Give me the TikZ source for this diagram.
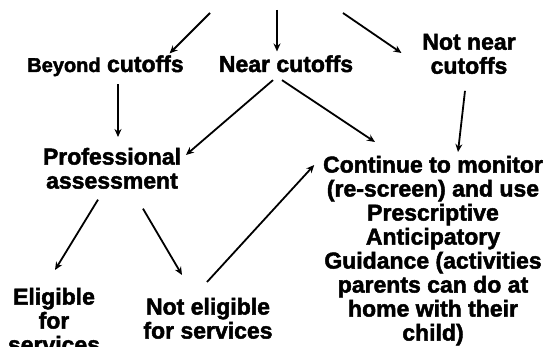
\documentclass[tikz,border=0pt]{standalone}
\usepackage{fontspec}
\setmainfont{Liberation Sans}[BoldFeatures={FakeBold=2}]
\usetikzlibrary{arrows.meta}

\begin{document}
\begin{tikzpicture}[x=1pt, y=1pt, line width=1.8pt, >={Stealth[length=8pt,width=7pt]},
    lbl/.style={inner sep=0, align=center, font=\bfseries\fontsize{23}{24}\selectfont}]
    \useasboundingbox (0,0) rectangle (550,347);

    \coordinate (in1) at (210,334);
    \coordinate (in2) at (277,337);
    \coordinate (in3) at (343,334);

    \node[lbl, anchor=base] (beyond) at (105.5,275) {{\fontsize{20}{24}\selectfont Beyond} cutoffs};
    \node[lbl, anchor=base] (near) at (286,275) {Near cutoffs};
    \node[lbl, anchor=north] (notnear) at (469,314) {Not near\\cutoffs};
    \node[lbl, anchor=north] (prof) at (112,200) {Professional\\assessment};
    \node[lbl, anchor=north] (cont) at (433,192) {Continue to monitor\\(re-screen) and use\\Prescriptive\\Anticipatory\\Guidance (activities\\parents can do at\\home with their\\child)};
    \node[lbl, anchor=north] (elig) at (54,60) {Eligible\\for\\services};
    \node[lbl, anchor=north] (noteli) at (208,50) {Not eligible\\for services};

    \draw[->] (in1) -- ([xshift=-15pt,yshift=1pt]beyond.north east);
    \draw[->] (in2) -- ([xshift=-9pt,yshift=3pt]near.north);
    \draw[->] (in3) -- ([xshift=-20pt,yshift=-20pt]notnear.north west);

    \draw[->] ([xshift=12.5pt,yshift=-7pt]beyond.south) -- ([xshift=6pt,yshift=10pt]prof.north);
    \draw[->] ([xshift=-13pt,yshift=-7pt]near.south) -- ([xshift=4pt,yshift=-8pt]prof.north east);
    \draw[->] ([xshift=-4pt,yshift=-7pt]near.south) -- ([xshift=-58pt,yshift=13pt]cont.north);
    \draw[->] ([xshift=-4pt,yshift=-16pt]notnear.south) -- ([xshift=25pt,yshift=3pt]cont.north);

    \draw[->] ([xshift=-14pt,yshift=-10pt]prof.south) -- ([xshift=1pt,yshift=17pt]elig.north);
    \draw[->] ([xshift=31pt,yshift=-19pt]prof.south) -- ([xshift=-26pt,yshift=22pt]noteli.north);
    \draw[->] ([xshift=-1pt,yshift=15pt]noteli.north) -- ([xshift=-8pt,yshift=-10pt]cont.north west);
\end{tikzpicture}
\end{document}
